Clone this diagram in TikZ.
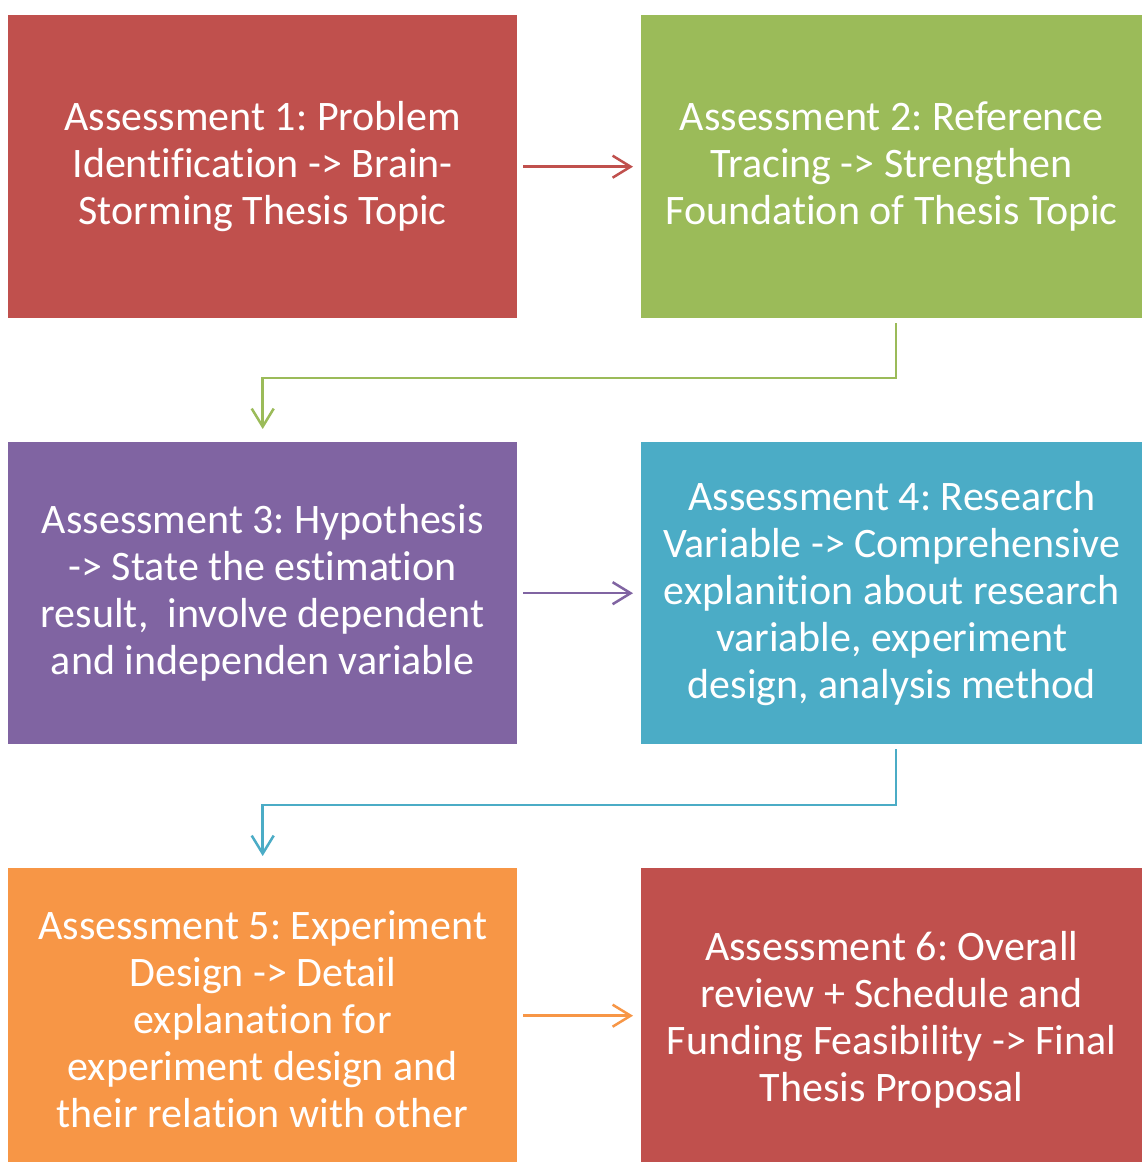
\documentclass[tikz,border=0pt]{standalone}
\usepackage{fontspec}
\setmainfont{Carlito}[Ligatures=NoCommon]
\usetikzlibrary{arrows.meta}
\definecolor{cRed}{HTML}{C0504D}
\definecolor{cGreen}{HTML}{9BBB59}
\definecolor{cPurple}{HTML}{8064A2}
\definecolor{cTeal}{HTML}{4BACC6}
\definecolor{cOrange}{HTML}{F79646}
\tikzset{
  abox/.style={rectangle, draw=none, minimum width=#1, minimum height=303pt, inner sep=0pt,
    text=white, align=center, font=\fontsize{42}{47}\selectfont\frenchspacing},
  conn/.style={line width=2.5pt, -{Straight Barb[length=18pt,width=22pt,line width=2.5pt]}},
}
\begin{document}
\begin{tikzpicture}[x=1pt,y=1pt]
\useasboundingbox (0,0) rectangle (1142,1162);
\fill[white] (0,0) rectangle (1142,1162);
% boxes
\node[abox=509pt, fill=cRed, anchor=north west] (b1) at (8,1147)
  {Assessment 1: Problem\\Identification -> Brain-\\Storming Thesis Topic};
\node[abox=501pt, fill=cGreen, anchor=north west] (b2) at (641,1147)
  {Assessment 2: Reference\\Tracing -> Strengthen\\Foundation of Thesis Topic};
\node[abox=509pt, fill=cPurple, anchor=north west, minimum height=302pt] (b3) at (8,720)
  {Assessment 3: Hypothesis\\-> State the estimation\\result,\ \ involve dependent\\and independen variable};
\node[abox=501pt, fill=cTeal, anchor=north west, minimum height=302pt] (b4) at (641,720)
  {Assessment 4: Research\\Variable -> Comprehensive\\explanition about research\\variable, experiment\\design, analysis method};
\node[abox=509pt, fill=cOrange, anchor=north west, minimum height=303pt] (b5) at (8,294)
  {Assessment 5: Experiment\\Design -> Detail\\explanation for\\experiment design and\\their relation with other};
\node[abox=501pt, fill=cRed, anchor=north west, minimum height=303pt] (b6) at (641,294)
  {Assessment 6: Overall\\review + Schedule and\\Funding Feasibility -> Final\\Thesis Proposal};
% connectors
\draw[conn, cRed] ([xshift=6pt]b1.east) -- ([xshift=-8pt]b2.west);
\draw[conn, cPurple] ([xshift=6pt]b3.east) -- ([xshift=-8pt]b4.west);
\draw[conn, cOrange] ([xshift=6pt,yshift=4pt]b5.east) -- ([xshift=-8pt,yshift=4pt]b6.west);
\coordinate (e1) at (896,784);
\coordinate (e2) at (896,357);
\draw[conn, cGreen] ([yshift=-5pt]b2.south -| e1) -- (e1) -- (e1 -| b3.north) -- ([yshift=13pt]b3.north);
\draw[conn, cTeal] ([yshift=-5pt]b4.south -| e2) -- (e2) -- (e2 -| b5.north) -- ([yshift=12pt]b5.north);
\end{tikzpicture}
\end{document}
